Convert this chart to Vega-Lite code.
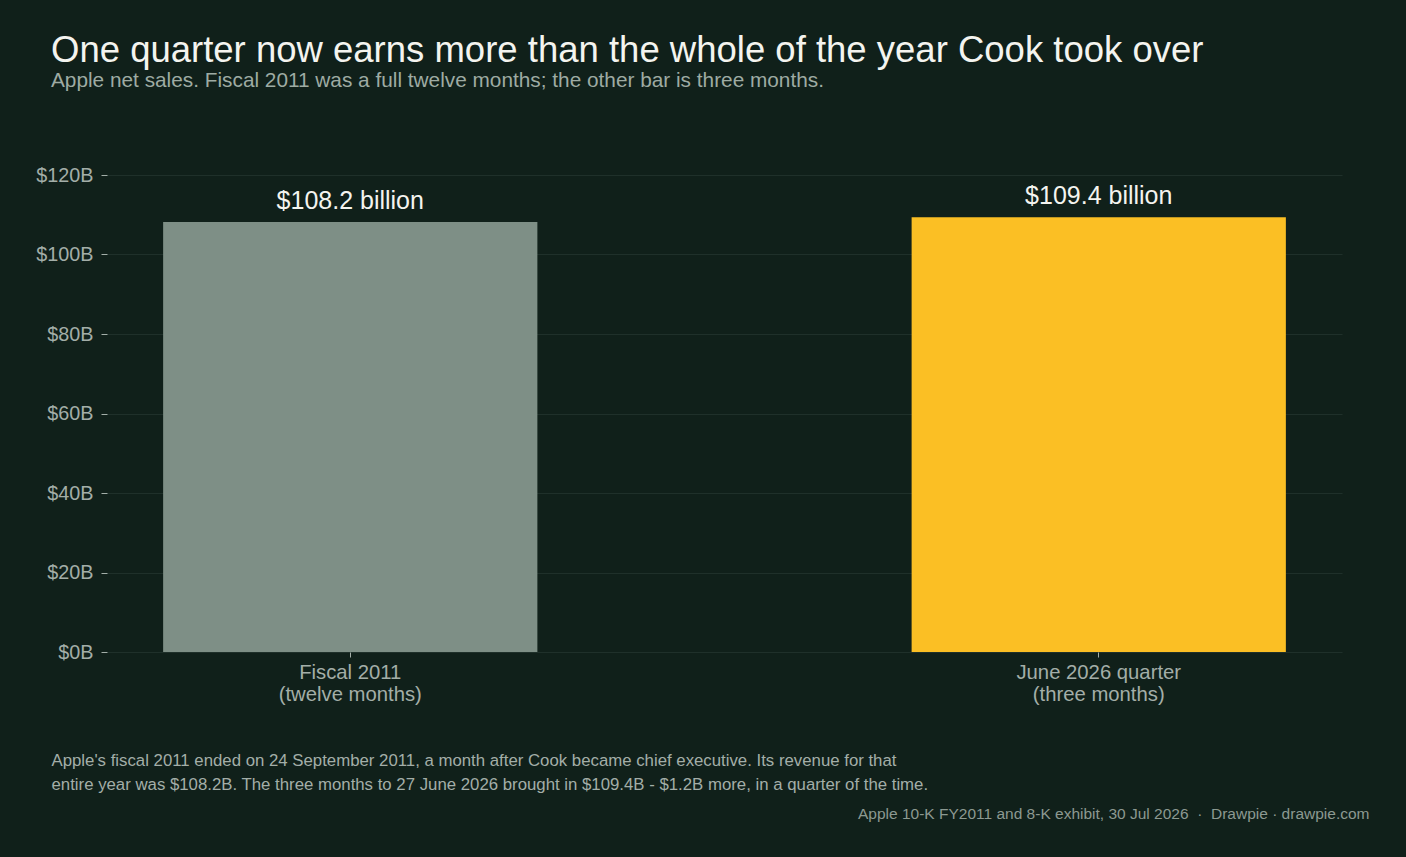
{
  "$schema": "https://vega.github.io/schema/vega-lite/v6.json",
  "width": 1235,
  "height": 477,
  "autosize": "none",
  "padding": {"left": 107, "top": 175, "right": 64, "bottom": 205},
  "background": "#10201a",
  "config": {
    "font": "Liberation Sans",
    "view": {"stroke": null}
  },
  "title": {
    "text": "One quarter now earns more than the whole of the year Cook took over",
    "subtitle": "Apple net sales. Fiscal 2011 was a full twelve months; the other bar is three months.",
    "anchor": "start",
    "frame": "group",
    "dx": -56,
    "offset": 74,
    "fontSize": 36.5,
    "fontWeight": "normal",
    "color": "#f4f4ef",
    "subtitleFontSize": 20.8,
    "subtitleColor": "#9eaba3",
    "subtitlePadding": 2
  },
  "data": {
    "values": [
      {"period": "Fiscal 2011|(twelve months)", "sales": 108.2, "label": "$108.2 billion"},
      {"period": "June 2026 quarter|(three months)", "sales": 109.4, "label": "$109.4 billion"}
    ]
  },
  "encoding": {
    "x": {
      "field": "period",
      "type": "nominal",
      "sort": null,
      "scale": {"paddingInner": 0.5, "paddingOuter": 0.075},
      "axis": {
        "labelExpr": "split(datum.label, '|')",
        "labelAngle": 0,
        "labelFontSize": 20.3,
        "labelLineHeight": 22,
        "labelColor": "#a3aea8",
        "labelPadding": 5,
        "tickSize": 5,
        "tickColor": "#a3aea8",
        "domain": false,
        "grid": false,
        "title": [
          "Apple's fiscal 2011 ended on 24 September 2011, a month after Cook became chief executive. Its revenue for that",
          "entire year was $108.2B. The three months to 27 June 2026 brought in $109.4B - $1.2B more, in a quarter of the time."
        ],
        "titleX": -56,
        "titleY": 100,
        "titleAlign": "left",
        "titleAnchor": "start",
        "titleBaseline": "top",
        "titleFontSize": 16.8,
        "titleFontWeight": "normal",
        "titleLineHeight": 24,
        "titleColor": "#a3aea8"
      }
    },
    "y": {
      "field": "sales",
      "type": "quantitative",
      "scale": {"domain": [0, 120]},
      "axis": {
        "values": [0, 20, 40, 60, 80, 100, 120],
        "labelExpr": "'$' + datum.value + 'B'",
        "labelFontSize": 19.8,
        "labelColor": "#a3aea8",
        "labelPadding": 8,
        "tickSize": 6,
        "tickColor": "#a3aea8",
        "domain": false,
        "grid": true,
        "gridColor": "#1f302a",
        "gridWidth": 1,
        "title": null
      }
    }
  },
  "layer": [
    {
      "mark": {"type": "bar"},
      "encoding": {
        "color": {
          "field": "period",
          "type": "nominal",
          "sort": null,
          "scale": {"range": ["#7e8f86", "#fbbf24"]},
          "legend": null
        }
      }
    },
    {
      "mark": {"type": "text", "baseline": "bottom", "dy": -8, "fontSize": 25, "color": "#f4f4ef"},
      "encoding": {
        "text": {"field": "label"},
        "y": {
          "field": "sales",
          "type": "quantitative",
          "axis": {
            "orient": "right",
            "labels": false,
            "ticks": false,
            "domain": false,
            "grid": false,
            "title": "Apple 10-K FY2011 and 8-K exhibit, 30 Jul 2026\u00a0\u00a0·\u00a0\u00a0Drawpie · drawpie.com",
            "titleAngle": 0,
            "titleAlign": "right",
            "titleBaseline": "middle",
            "titleX": 27,
            "titleY": 638,
            "titleFontSize": 15.5,
            "titleFontWeight": "normal",
            "titleColor": "#8c9991"
          }
        }
      }
    }
  ],
  "resolve": {"axis": {"y": "independent"}}
}
